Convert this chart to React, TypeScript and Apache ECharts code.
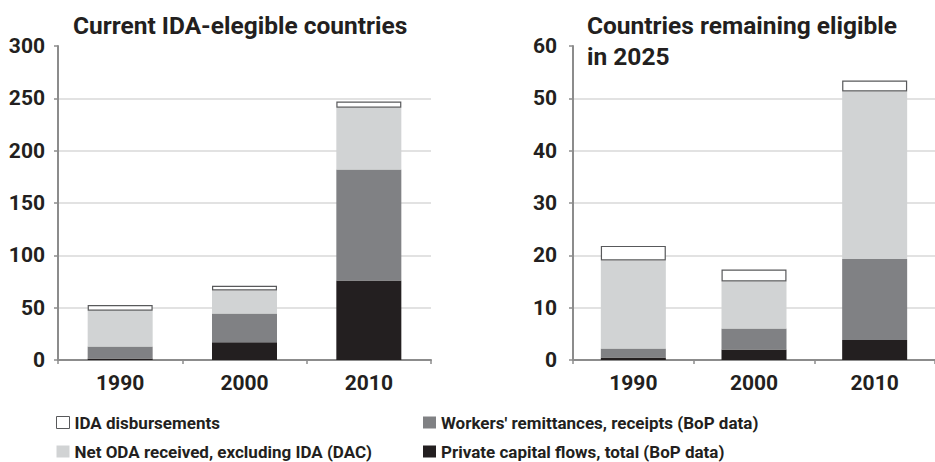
import React, { useEffect, useRef } from "react";
import * as echarts from "echarts";

const categories = ["1990", "2000", "2010"];

// Current IDA-eligible countries (left panel)
const leftPrivate = [1.5, 17, 76];
const leftRemit = [11.5, 27.5, 106];
const leftODA = [34, 22, 59];
const leftIDA = [5.5, 4.5, 6];

// Countries remaining eligible in 2025 (right panel)
const rightPrivate = [0.5, 2, 3.8];
const rightRemit = [1.7, 4, 15.5];
const rightODA = [16.8, 9, 32];
const rightIDA = [2.8, 2.3, 2.1];

const seriesNames = [
  "Private capital flows, total (BoP data)",
  "Workers' remittances, receipts (BoP data)",
  "Net ODA received, excluding IDA (DAC)",
  "IDA disbursements",
];

const titles = ["Current IDA-elegible countries", "Countries remaining eligible\nin 2025"];

const leftTicks = { min: 0, max: 300, interval: 50 };
const rightTicks = { min: 0, max: 60, interval: 10 };

const FONT = "Roboto";
const TEXT = "#231f20";
const AXIS = "#8c8c8c";
const colors = ["#231f20", "#808184", "#d1d3d4", "#ffffff"];
const IDA_BORDER = "#58595b";

export default function App() {
  const ref = useRef<HTMLDivElement>(null);
  useEffect(() => {
    if (!ref.current) return;
    const chart = echarts.init(ref.current, undefined, { renderer: "svg" });
    const makeY = (idx: number, t: { min: number; max: number; interval: number }, margin: number) => ({
      type: "value",
      gridIndex: idx,
      min: t.min,
      max: t.max,
      interval: t.interval,
      axisLine: { show: true, lineStyle: { color: AXIS, width: 2 } },
      axisTick: { show: true, length: 4, lineStyle: { color: AXIS, width: 1.5 } },
      axisLabel: { fontFamily: FONT, fontWeight: "bold", fontSize: 21, color: TEXT, margin },
      splitLine: { show: true, showMaxLine: false, lineStyle: { color: "#d9d9d9", width: 1.5 } },
    });
    const makeX = (idx: number) => ({
      type: "category",
      gridIndex: idx,
      data: categories,
      axisLine: { show: true, lineStyle: { color: AXIS, width: 2 } },
      axisTick: { show: true, length: 4, alignWithLabel: false, lineStyle: { color: AXIS, width: 1.5 } },
      axisLabel: { fontFamily: FONT, fontWeight: "bold", fontSize: 21, color: TEXT, margin: 12 },
    });
    const panels = [
      [leftPrivate, leftRemit, leftODA, leftIDA],
      [rightPrivate, rightRemit, rightODA, rightIDA],
    ];
    const series: any[] = [];
    panels.forEach((vals, p) => {
      vals.forEach((data, i) => {
        series.push({
          type: "bar",
          name: seriesNames[i],
          xAxisIndex: p,
          yAxisIndex: p,
          stack: "s" + p,
          barWidth: 65,
          data,
          itemStyle:
            i === 3
              ? { color: colors[3], borderColor: IDA_BORDER, borderWidth: 1.2 }
              : { color: colors[i] },
          emphasis: { disabled: true },
        });
      });
    });
    const legendText = { fontFamily: FONT, fontWeight: "bold", fontSize: 17, color: TEXT, lineHeight: 17 };
    const titleText = { fontFamily: FONT, fontWeight: "bold", fontSize: 24.5, color: TEXT, lineHeight: 31 };
    chart.setOption({
      animation: false,
      title: [
        { text: titles[0], left: 73, top: 10, padding: 0, textStyle: titleText },
        { text: titles[1], left: 587, top: 10, padding: 0, textStyle: titleText },
      ],
      grid: [
        { left: 58, right: 504, top: 46, bottom: 102 },
        { left: 573, right: -11, top: 46, bottom: 102 },
      ],
      xAxis: [makeX(0), makeX(1)],
      yAxis: [makeY(0, leftTicks, 13), makeY(1, rightTicks, 16)],
      legend: [
        {
          orient: "vertical",
          left: 56,
          top: 414,
          padding: 0,
          itemWidth: 13,
          itemHeight: 12,
          itemGap: 12,
          icon: "rect",
          selectedMode: false,
          textStyle: legendText,
          data: [
            { name: seriesNames[3], itemStyle: { color: "#fff", borderColor: IDA_BORDER, borderWidth: 1 } },
            { name: seriesNames[2], itemStyle: { color: colors[2] } },
          ],
        },
        {
          orient: "vertical",
          left: 423,
          top: 414,
          padding: 0,
          itemWidth: 13,
          itemHeight: 12,
          itemGap: 12,
          icon: "rect",
          selectedMode: false,
          textStyle: legendText,
          data: [
            { name: seriesNames[1], itemStyle: { color: colors[1] } },
            { name: seriesNames[0], itemStyle: { color: colors[0] } },
          ],
        },
      ],
      series,
    });
    return () => chart.dispose();
  }, []);
  return (
    <div
      ref={ref}
      style={{ position: "fixed", left: 0, top: 0, width: 935, height: 462, background: "#fff" }}
    />
  );
}
